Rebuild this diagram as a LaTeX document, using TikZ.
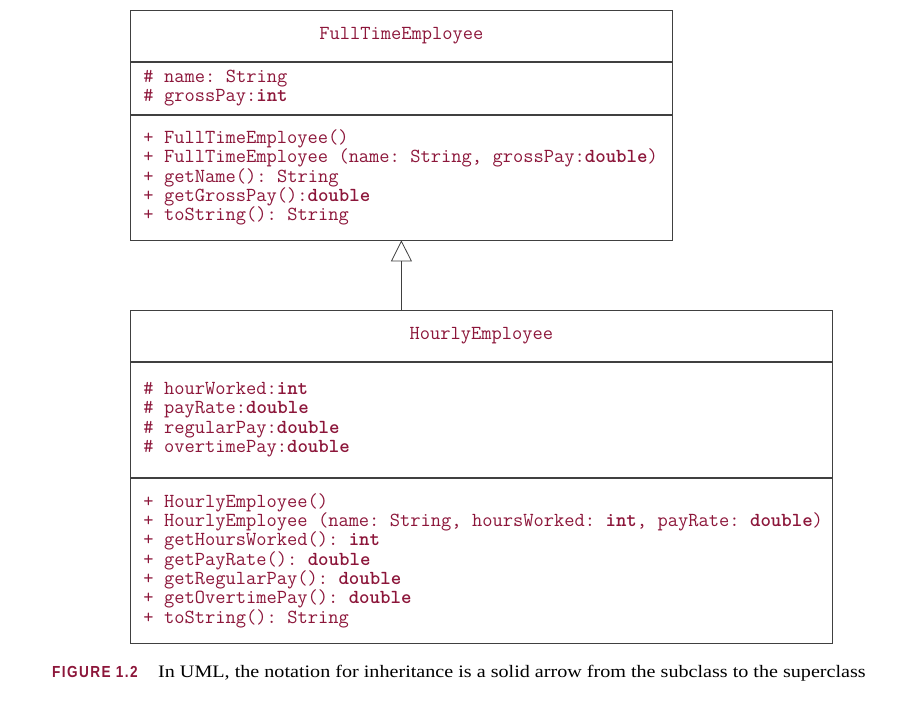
\documentclass[tikz,border=0pt]{standalone}
\usepackage{fontspec}
\usepackage{xcolor}
\usetikzlibrary{positioning}
\usetikzlibrary{arrows.meta}
\tikzset{>=latex}
\newfontfamily\capserif[FakeStretch=1.15]{Liberation Serif}
\newfontfamily\caplabel[FakeStretch=0.85, LetterSpace=9]{Liberation Sans}
\definecolor{umlred}{RGB}{140,22,58}
\newcommand{\umltext}{\ttfamily\fontsize{19.9}{19.3}\selectfont\frenchspacing}

\begin{document}
\begin{tikzpicture}[
            x=1pt, y=1pt,
            compart/.style={draw=black!75, line width=0.8pt, inner ysep=0pt, inner xsep=13pt, align=left, font=\umltext, text=umlred,
                execute at begin node={\spaceskip=0.525em\xspaceskip=0.525em\relax}},
            small/.style={compart, minimum width=542pt, text width=516pt},
            wide/.style={compart, minimum width=702pt, text width=676pt},
            title/.style={align=center},
            inherit/.style={-{Triangle[open, width=21pt, length=21pt]}, draw=black!75, line width=0.8pt}
        ]
            \useasboundingbox (0, 0) rectangle (909, 712);
            % superclass
            \node[small, title, minimum height=51pt, anchor=north west] (ftname) at (130, 702) {FullTimeEmployee};
            \node[small, minimum height=52pt, below=0pt of ftname] (ftattr) {\# name: String\\
                \# grossPay:\textbf{int}};
            \node[small, minimum height=125pt, below=0pt of ftattr] (ftops) {+ FullTimeEmployee()\\
                \mbox{+ FullTimeEmployee (name: String, grossPay:\textbf{double})}\\
                + getName(): String\\
                + getGrossPay():\textbf{double}\\
                + toString(): String};
            % subclass
            \node[wide, title, minimum height=51pt, anchor=north west] (htname) at (130, 402) {HourlyEmployee};
            \node[wide, minimum height=115pt, below=0pt of htname] (htattr) {\# hourWorked:\textbf{int}\\
                \# payRate:\textbf{double}\\
                \# regularPay:\textbf{double}\\
                \# overtimePay:\textbf{double}};
            \node[wide, minimum height=165pt, below=0pt of htattr] (htops) {+ HourlyEmployee()\\
                \mbox{+ HourlyEmployee (name: String, hoursWorked: \textbf{int}, payRate: \textbf{double})}\\
                + getHoursWorked(): \textbf{int}\\
                + getPayRate(): \textbf{double}\\
                + getRegularPay(): \textbf{double}\\
                + getOvertimePay(): \textbf{double}\\
                + toString(): String};
            % paths
            \coordinate (subtop) at (ftops.south |- htname.north);
            \draw[inherit] (subtop) -- (ftops.south);
            % label
            \node[anchor=base west, inner sep=0pt, text=umlred, font=\caplabel\bfseries\fontsize{16}{18}\selectfont] (figlabel) at (52, 35) {FIGURE 1.2};
            \node[anchor=base west, inner sep=0pt, font=\capserif\fontsize{17.5}{21}\selectfont] (figtext) at (158, 35) {In UML, the notation for inheritance is a solid arrow from the subclass to the superclass};
        \end{tikzpicture}
\end{document}
